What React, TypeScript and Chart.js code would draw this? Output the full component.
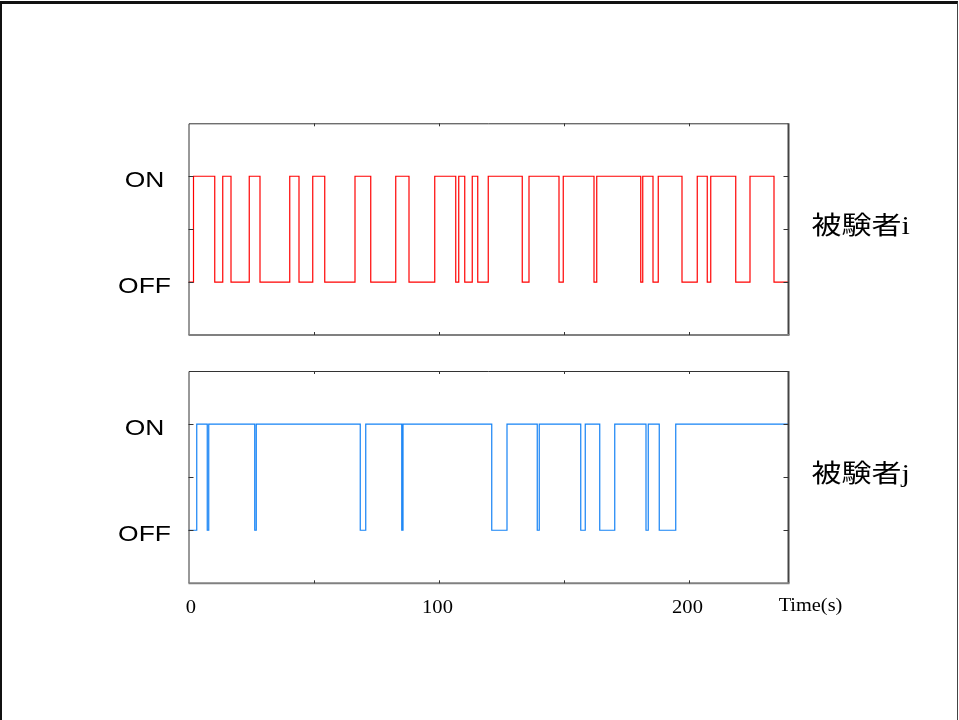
import React, { useEffect, useRef } from 'react';
import { Chart, registerables } from 'chart.js';

Chart.register(...registerables);

// ---- data ----
const X_MIN = 0;
const X_MAX = 240;
const Y_MIN = -0.5;
const Y_MAX = 1.5;
const xTickValues = [0, 50, 100, 150, 200];
const xTickLabels = ['0', '', '100', '', '200'];
const yTickValues = [-0.5, 0, 0.5, 1, 1.5];
const yTickLabels = ['', 'OFF', '', 'ON', ''];
const xAxisTitle = 'Time(s)';
const subjectILabel = '被験者i';
const subjectJLabel = '被験者j';

// switching times (s) and the state (0 = OFF, 1 = ON) from that time on
const subjectITimes = [0, 2, 10.5, 13.7, 17, 24.3, 28.6, 40.5, 44.2, 49.7, 54.5, 66.6, 72.9, 82.9, 88.2, 98.5, 106.9, 108.1, 110.5, 113.5, 115.7, 119.9, 133.5, 136.2, 148.2, 149.9, 162.2, 163.3, 180.9, 181.7, 185.8, 187.9, 197.4, 203.5, 207.5, 208.9, 218.9, 224.6, 234.2, 240];
const subjectIStates = [0, 1, 0, 1, 0, 1, 0, 1, 0, 1, 0, 1, 0, 1, 0, 1, 0, 1, 0, 1, 0, 1, 0, 1, 0, 1, 0, 1, 0, 1, 0, 1, 0, 1, 0, 1, 0, 1, 0, 0];

const subjectJTimes = [0, 3.3, 7.5, 8.1, 26.5, 27.1, 68.7, 70.9, 85.3, 85.8, 121.3, 127.4, 139.5, 140.3, 156.9, 158.7, 164.5, 170.5, 183, 183.9, 188.3, 194.9, 240];
const subjectJStates = [0, 1, 0, 1, 0, 1, 0, 1, 0, 1, 0, 1, 0, 1, 0, 1, 0, 1, 0, 1, 0, 1, 1];

type PanelOpts = {
  sideLabel: string;
  showXLabels: boolean;
};

function drawStretched(ctx: CanvasRenderingContext2D, text: string, x: number, y: number, sx: number) {
  ctx.save();
  ctx.translate(x, y);
  ctx.scale(sx, 1);
  ctx.fillText(text, 0, 0);
  ctx.restore();
}

function makeFramePlugin(opts: PanelOpts) {
  return {
    id: 'frameAndLabels',
    afterDraw(chart: any) {
      const ctx: CanvasRenderingContext2D = chart.ctx;
      const { left, right, top, bottom } = chart.chartArea;
      const xs = chart.scales.x;
      const ys = chart.scales.y;
      ctx.save();
      // frame
      ctx.lineWidth = 1;
      ctx.strokeStyle = '#333333';
      ctx.beginPath();
      ctx.moveTo(left + 0.5, bottom);
      ctx.lineTo(left + 0.5, top + 0.5);
      ctx.lineTo(right, top + 0.5);
      ctx.stroke();
      ctx.lineWidth = 2;
      ctx.strokeStyle = '#444444';
      ctx.beginPath();
      ctx.moveTo(right, top);
      ctx.lineTo(right, bottom);
      ctx.stroke();
      ctx.strokeStyle = '#808080';
      ctx.beginPath();
      ctx.moveTo(left, bottom);
      ctx.lineTo(right + 1, bottom);
      ctx.stroke();

      // inward ticks
      ctx.lineWidth = 1;
      ctx.strokeStyle = '#333333';
      xTickValues.forEach((v) => {
        if (v <= X_MIN || v >= X_MAX) return;
        const px = Math.round(xs.getPixelForValue(v)) + 0.5;
        ctx.beginPath();
        ctx.moveTo(px, top);
        ctx.lineTo(px, top + 3);
        ctx.moveTo(px, bottom);
        ctx.lineTo(px, bottom - 3);
        ctx.stroke();
      });
      yTickValues.forEach((v) => {
        if (v <= Y_MIN || v >= Y_MAX) return;
        const py = Math.round(ys.getPixelForValue(v)) + 0.5;
        ctx.beginPath();
        ctx.moveTo(left, py);
        ctx.lineTo(left + 5, py);
        ctx.moveTo(right, py);
        ctx.lineTo(right - 5, py);
        ctx.stroke();
      });

      // y tick labels
      ctx.fillStyle = '#000000';
      ctx.font = '22px "Liberation Sans", Arial, sans-serif';
      ctx.textAlign = 'center';
      ctx.textBaseline = 'middle';
      yTickValues.forEach((v, i) => {
        const label = yTickLabels[i];
        if (!label) return;
        const py = ys.getPixelForValue(v);
        drawStretched(ctx, label, left - 44, py + 5, 1.2);
      });

      // side label
      ctx.font = '25px "Liberation Serif", "Noto Sans CJK JP", serif';
      ctx.textAlign = 'left';
      ctx.textBaseline = 'alphabetic';
      const mid = ys.getPixelForValue(0.5);
      drawStretched(ctx, opts.sideLabel, right + 23, mid + 5, 1.2);

      // x tick labels + axis title
      if (opts.showXLabels) {
        ctx.font = '19px "Liberation Serif", "Times New Roman", serif';
        ctx.textAlign = 'center';
        ctx.textBaseline = 'alphabetic';
        xTickValues.forEach((v, i) => {
          const label = xTickLabels[i];
          if (!label) return;
          const px = xs.getPixelForValue(v);
          drawStretched(ctx, label, px + (v === X_MIN ? 2.5 : -1), bottom + 30, 1.08);
        });
        ctx.font = '18px "Liberation Serif", "Times New Roman", serif';
        drawStretched(ctx, xAxisTitle, right + 22, bottom + 28, 1.13);
      }
      ctx.restore();
    },
  };
}

function Panel(props: {
  times: number[];
  states: number[];
  color: string;
  sideLabel: string;
  showXLabels: boolean;
  top: number;
  height: number;
  padTop: number;
  padBottom: number;
}) {
  const ref = useRef<HTMLCanvasElement | null>(null);
  useEffect(() => {
    if (!ref.current) return;
    const points = props.times.map((t, i) => ({ x: t, y: props.states[i] }));
    const chart = new Chart(ref.current, {
      type: 'line',
      data: {
        datasets: [
          {
            data: points,
            borderColor: props.color,
            borderWidth: 1.2,
            pointRadius: 0,
            stepped: 'before',
            fill: false,
          } as any,
        ],
      },
      options: {
        animation: false,
        responsive: false,
        maintainAspectRatio: false,
        layout: {
          padding: { left: 188.5, right: 170.5, top: props.padTop, bottom: props.padBottom },
        },
        plugins: { legend: { display: false }, tooltip: { enabled: false } },
        scales: {
          x: { type: 'linear', min: X_MIN, max: X_MAX, display: false },
          y: { type: 'linear', min: Y_MIN, max: Y_MAX, display: false },
        },
      },
      plugins: [makeFramePlugin({ sideLabel: props.sideLabel, showXLabels: props.showXLabels })],
    });
    return () => chart.destroy();
  }, []);
  return (
    <canvas
      ref={ref}
      width={959}
      height={props.height}
      style={{ position: 'absolute', left: 0, top: props.top, width: 959, height: props.height }}
    />
  );
}

export default function App() {
  return (
    <div
      style={{
        position: 'fixed',
        left: 0,
        top: 0,
        width: 959,
        height: 720,
        background: '#ffffff',
        overflow: 'hidden',
      }}
    >
      <div
        style={{
          position: 'absolute',
          left: 0,
          top: 1,
          width: 955,
          height: 740,
          borderTop: '3px solid #111',
          borderLeft: '2px solid #111',
          borderRight: '1px solid #444',
        }}
      />
      <Panel
        times={subjectITimes}
        states={subjectIStates}
        color="rgb(255,0,0)"
        sideLabel={subjectILabel}
        showXLabels={false}
        top={100}
        height={260}
        padTop={23.3}
        padBottom={25}
      />
      <Panel
        times={subjectJTimes}
        states={subjectJStates}
        color="rgb(20,130,245)"
        sideLabel={subjectJLabel}
        showXLabels={true}
        top={350}
        height={280}
        padTop={21}
        padBottom={46.7}
      />
    </div>
  );
}
